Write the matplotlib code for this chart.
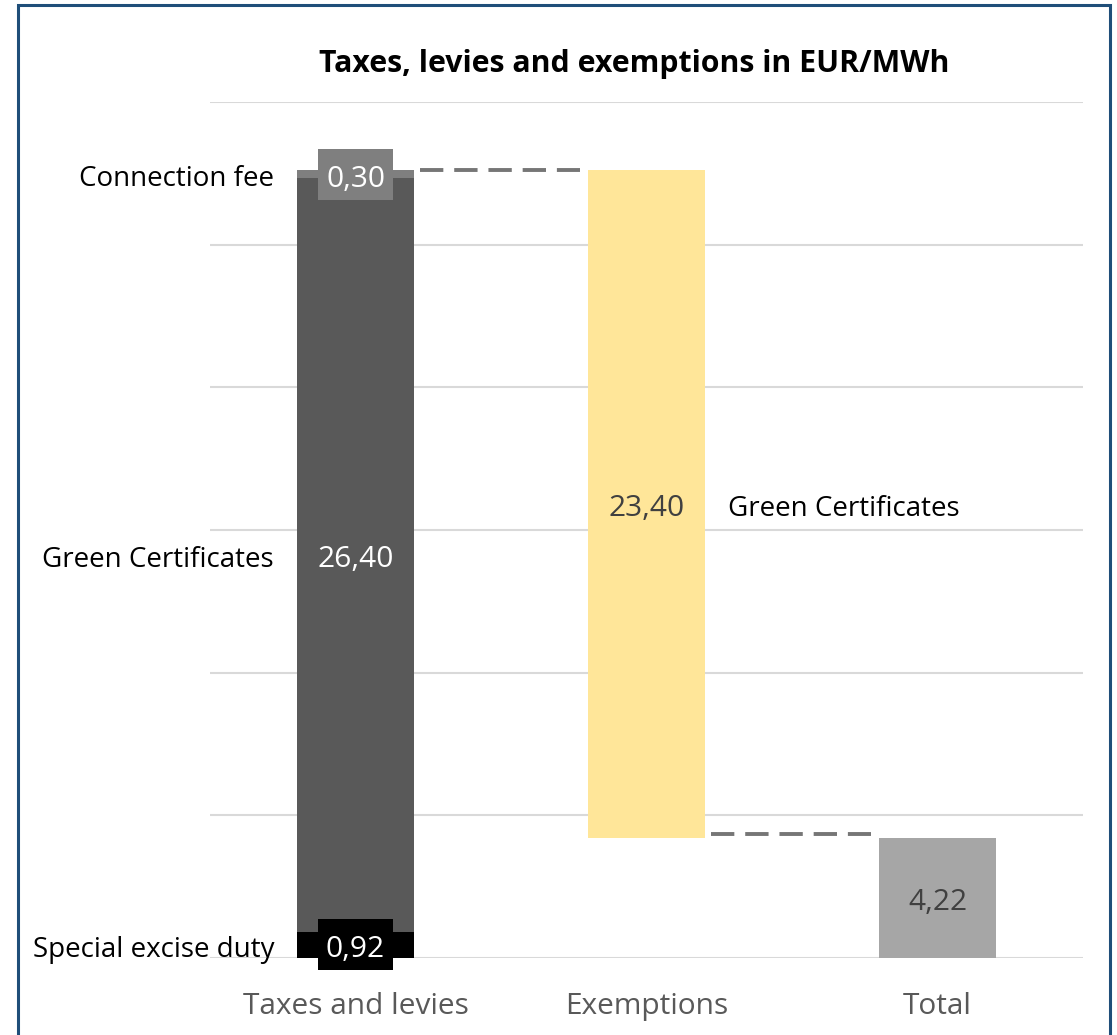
import matplotlib
matplotlib.use("Agg")
import matplotlib.pyplot as plt
from matplotlib.patches import Rectangle
from matplotlib.transforms import offset_copy

plt.rcParams['font.family'] = ['Open Sans', 'DejaVu Sans']

categories = ["Taxes and levies", "Exemptions", "Total"]
stack_names = ["Special excise duty", "Green Certificates", "Connection fee"]
stack_values = [0.92, 26.40, 0.30]
stack_colors = ["#000000", "#595959", "#7f7f7f"]
exemption_name = "Green Certificates"
exemption_value = 23.40
total_value = 4.22
yticks = [0, 5, 10, 15, 20, 25, 30]

def fmt(v):
    return f"{v:.2f}".replace(".", ",")

W, H = 1117, 1035
fig = plt.figure(figsize=(W / 100, H / 100), dpi=100)
ax = fig.add_axes([210 / W, 1 - 958 / H, (1083 - 210) / W, (958 - 102) / H])
tr = offset_copy(ax.transData, fig=fig, x=0, y=-3.5, units="points")

bw = 0.40
x = [0, 1, 2]

# stacked bar
bottom = 0
stack_tops = []
for name, v, c in zip(stack_names, stack_values, stack_colors):
    ax.bar(x[0], v, bw, bottom=bottom, color=c, zorder=2)
    stack_tops.append((bottom, v))
    bottom += v
top_total = bottom

# exemptions bar (floating)
ex_bottom = top_total - exemption_value
ax.bar(x[1], exemption_value, bw, bottom=ex_bottom, color="#FFE699", zorder=2)
# total bar
ax.bar(x[2], total_value, bw, color="#A6A6A6", zorder=2)

# connector dashed lines
ax.plot([x[0] + bw / 2 + 0.02, x[1] - bw / 2 - 0.03], [top_total, top_total],
        ls=(0, (6, 2.8)), color="#767676", lw=2.8, zorder=1)
ax.plot([x[1] + bw / 2 + 0.02, x[2] - bw / 2 - 0.03], [ex_bottom + 0.12, ex_bottom + 0.12],
        ls=(0, (6, 2.8)), color="#767676", lw=2.8, zorder=1)

fs = 21.5
lfs = 20
box_w, box_h = 0.26, 1.78
# value labels
for (b, v), c, name in zip(stack_tops, stack_colors, stack_names):
    mid = b + v / 2
    if v < 2:
        ax.add_patch(Rectangle((x[0] - box_w / 2, mid - box_h / 2), box_w, box_h,
                               fc=c, ec="none", zorder=3, clip_on=False))
    ax.text(x[0], mid, fmt(v), ha="center", va="center", color="white", fontsize=fs,
            zorder=4, transform=tr)
    ax.text(x[0] - bw / 2 - 0.08, mid, name, ha="right", va="center", color="black",
            fontsize=lfs, zorder=4, transform=tr)

ex_mid = ex_bottom + exemption_value / 2
ax.text(x[1], ex_mid, fmt(exemption_value), ha="center", va="center", color="#404040",
        fontsize=fs, zorder=4, transform=tr)
ax.text(x[1] + bw / 2 + 0.08, ex_mid, exemption_name, ha="left", va="center", color="black",
        fontsize=lfs, zorder=4, transform=tr)
ax.text(x[2], total_value / 2, fmt(total_value), ha="center", va="center", color="#404040",
        fontsize=fs, zorder=4, transform=tr)

ax.set_xlim(-0.5, 2.5)
ax.set_ylim(0, 30)
ax.set_yticks(yticks)
ax.yaxis.grid(True, color="#D9D9D9", lw=1.5, zorder=0)
ax.set_axisbelow(True)
ax.tick_params(axis="y", left=False, labelleft=False)
ax.tick_params(axis="x", bottom=False, labelsize=fs, labelcolor="#595959", pad=21)
ax.set_xticks(x)
ax.set_xticklabels(categories)
for s in ax.spines.values():
    s.set_visible(False)

fig.text((318 + 950) / 2 / W, 1 - 64 / H, "Taxes, levies and exemptions in EUR/MWh",
         ha="center", va="center", fontsize=21.8, fontweight="bold", color="black")

# figure border
fig.patches.append(Rectangle((18 / W, -0.05), (1110 - 18) / W, 1 - 5 / H + 0.05,
                             transform=fig.transFigure, fill=False, ec="#1F4E79", lw=2.2))

fig.savefig("out.png", dpi=100)
